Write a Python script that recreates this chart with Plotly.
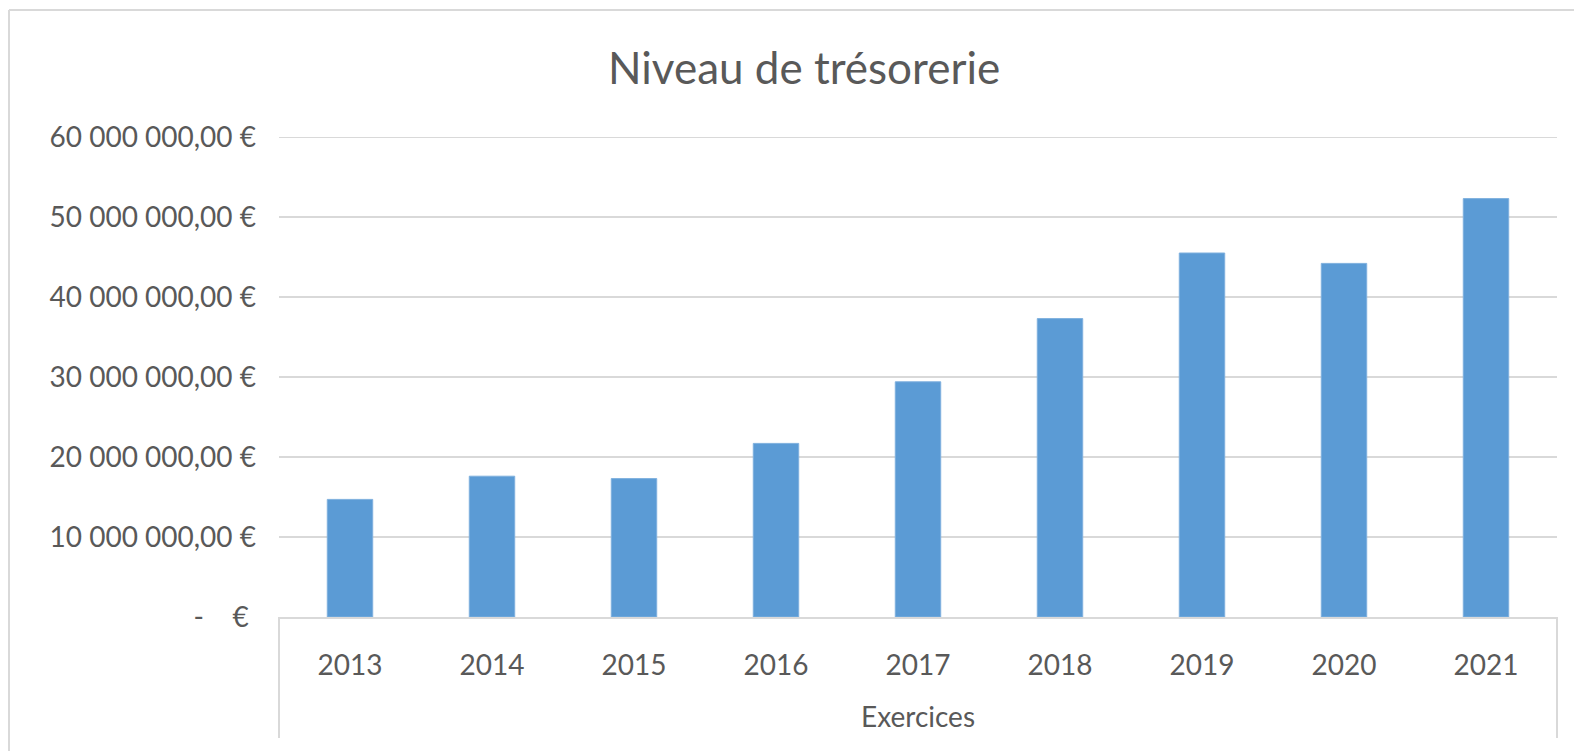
import plotly.graph_objects as go

# Cash level per financial year (EUR)
years = ["2013", "2014", "2015", "2016", "2017", "2018", "2019", "2020", "2021"]
tresorerie = [14_700_000, 17_600_000, 17_300_000, 21_700_000, 29_400_000,
              37_300_000, 45_500_000, 44_200_000, 52_300_000]

y_ticks = [0, 10_000_000, 20_000_000, 30_000_000, 40_000_000, 50_000_000, 60_000_000]


def euro_label(v):
    # French accounting style: space thousands separator, comma decimals, dash for zero
    if v == 0:
        return "-\u00a0\u00a0\u00a0\u00a0€\u00a0"
    s = f"{v:,.2f}".replace(",", " ").replace(".", ",")
    return s + " €"


y_labels = [euro_label(v) for v in y_ticks]

W, H = 1574, 751
ML, MR, MT, MB = 279, 17, 137, 134
PW, PH = W - ML - MR, H - MT - MB

FONT = "Lato"
TXT = "#595959"
GRID = "#d9d9d9"


def px_x(px):
    return (px - ML) / PW


def px_y(py):
    return (H - MB - py) / PH


fig = go.Figure(
    go.Bar(
        x=years,
        y=tresorerie,
        marker=dict(color="#5b9bd5", line=dict(color="#7fb0de", width=1)),
        width=0.32,
    )
)

shapes = [
    # top gridline sits on the plot edge, so draw it explicitly
    dict(type="line", xref="paper", yref="y",
         x0=0, x1=1, y0=y_ticks[-1], y1=y_ticks[-1],
         line=dict(color=GRID, width=2), layer="below"),
    # chart frame (top and left edges)
    dict(type="line", xref="paper", yref="paper",
         x0=px_x(9), x1=px_x(W + 5), y0=px_y(10), y1=px_y(10),
         line=dict(color=GRID, width=2)),
    dict(type="line", xref="paper", yref="paper",
         x0=px_x(9), x1=px_x(9), y0=px_y(10), y1=px_y(H + 5),
         line=dict(color=GRID, width=2)),
    # category axis box sides
    dict(type="line", xref="paper", yref="paper",
         x0=0, x1=0, y0=0, y1=px_y(738),
         line=dict(color=GRID, width=2)),
    dict(type="line", xref="paper", yref="paper",
         x0=1, x1=1, y0=0, y1=px_y(738),
         line=dict(color=GRID, width=2)),
]

annotations = [
    dict(text="Niveau de trésorerie", xref="paper", yref="paper",
         x=px_x(804), y=px_y(67), xanchor="center", yanchor="middle",
         showarrow=False, font=dict(family=FONT, size=44, color=TXT)),
    dict(text="Exercices", xref="paper", yref="paper",
         x=0.5, y=px_y(716), xanchor="center", yanchor="middle",
         showarrow=False, font=dict(family=FONT, size=28, color=TXT)),
]

fig.update_layout(
    width=W, height=H,
    margin=dict(l=ML, r=MR, t=MT, b=MB, pad=0),
    paper_bgcolor="white", plot_bgcolor="white",
    showlegend=False,
    shapes=shapes,
    annotations=annotations,
    xaxis=dict(
        type="category",
        showgrid=False,
        showline=True, linecolor=GRID, linewidth=2,
        ticks="", ticklabelstandoff=22,
        tickfont=dict(family=FONT, size=28, color=TXT),
        fixedrange=True,
    ),
    yaxis=dict(
        range=[0, 60_000_000],
        tickvals=y_ticks, ticktext=y_labels,
        showgrid=True, gridcolor=GRID, gridwidth=2,
        zeroline=False, showline=False,
        ticks="", ticklabelstandoff=22,
        tickfont=dict(family=FONT, size=28, color=TXT),
        fixedrange=True,
    ),
)

fig.write_html("out.html", config={"displayModeBar": False})
